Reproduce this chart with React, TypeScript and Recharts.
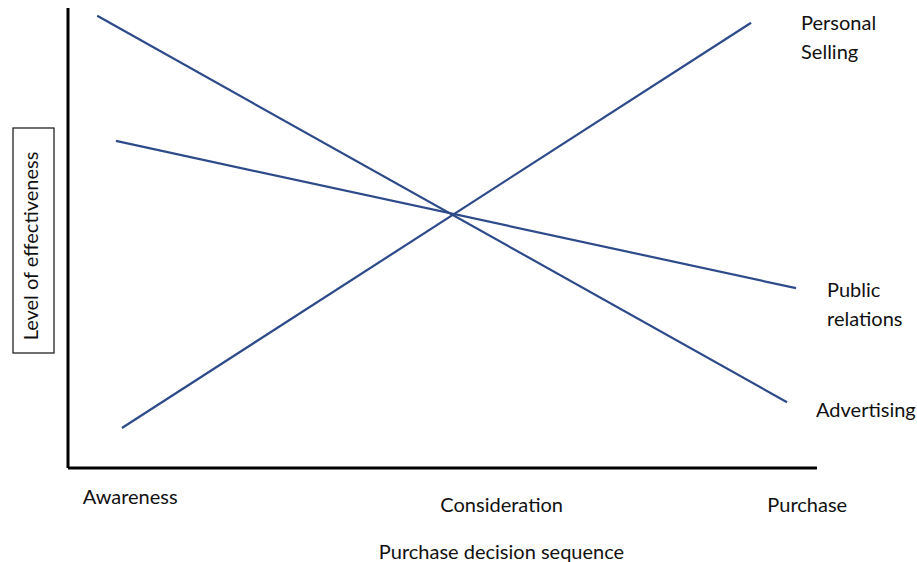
import { LineChart, Line, XAxis, YAxis } from 'recharts'

// x: position along the purchase decision sequence (0-100), y: level of effectiveness (0-100)
const advertising = [
  { x: 3.9, y: 98.3 },
  { x: 96.0, y: 14.3 },
]
const personalSelling = [
  { x: 7.2, y: 8.7 },
  { x: 91.2, y: 96.8 },
]
const publicRelations = [
  { x: 6.4, y: 71.1 },
  { x: 97.2, y: 39.1 },
]

const stageTicks = [8.3, 57.9, 98.7]
const stageLabels = ['Awareness', 'Consideration', 'Purchase']

const LINE_COLOR = '#2d4a8a'
const FONT = 'Lato, "Open Sans", sans-serif'
const FONT_SIZE = 20
const TEXT_COLOR = '#111'

// small vertical nudges for the stage labels (Awareness sits a little higher)
const stageDy = [-8, 0, 0]

function StageTick(props: any) {
  const { x, y, payload, index } = props
  const i = stageTicks.indexOf(payload.value)
  return (
    <text x={x} y={y + 31 + stageDy[i >= 0 ? i : index]} textAnchor="middle" fontFamily={FONT} fontSize={FONT_SIZE} fill={TEXT_COLOR} dominantBaseline="middle">
      {stageLabels[i >= 0 ? i : index]}
    </text>
  )
}

function XTitle(props: any) {
  const { viewBox } = props
  const cx = viewBox.x + viewBox.width / 2 + 59
  return (
    <text x={cx} y={554} textAnchor="middle" dominantBaseline="middle" fontFamily={FONT} fontSize={FONT_SIZE} fill={TEXT_COLOR}>
      Purchase decision sequence
    </text>
  )
}

function YTitle() {
  return (
    <g>
      <rect x={13} y={128} width={41} height={225} fill="#fff" stroke="#222" strokeWidth={1.3} />
      <text x={33} y={246} transform="rotate(-90 33 246)" textAnchor="middle" dominantBaseline="middle" fontFamily={FONT} fontSize={FONT_SIZE} fill={TEXT_COLOR}>
        Level of effectiveness
      </text>
    </g>
  )
}

function endLabel(lines: string[], dx: number, dy: number) {
  return (props: any) => {
    const { x, y, index } = props
    if (index !== 1) return null
    return (
      <text key={`lbl-${lines[0]}`} x={x + dx} y={y + dy} fontFamily={FONT} fontSize={FONT_SIZE} fill={TEXT_COLOR} dominantBaseline="middle">
        {lines.map((t, i) => (
          <tspan key={t} x={x + dx} dy={i === 0 ? 0 : 29}>{t}</tspan>
        ))}
      </text>
    )
  }
}

export default function App() {
  return (
    <div style={{ position: 'absolute', left: 0, top: 0, width: 917, height: 562, background: '#fff' }}>
      <LineChart width={917} height={562} margin={{ top: 8, right: 100, bottom: 0, left: 0 }}>
        <XAxis
          type="number"
          dataKey="x"
          domain={[0, 100]}
          ticks={stageTicks}
          tick={<StageTick />}
          tickLine={false}
          axisLine={{ stroke: '#000', strokeWidth: 3 }}
          height={94}
          allowDataOverflow
          label={<XTitle />}
        />
        <YAxis
          type="number"
          domain={[0, 100]}
          tick={false}
          tickLine={false}
          axisLine={{ stroke: '#000', strokeWidth: 3 }}
          width={68}
          label={<YTitle />}
        />
        <Line data={advertising} dataKey="y" stroke={LINE_COLOR} strokeWidth={2.2} dot={false} activeDot={false} isAnimationActive={false} label={endLabel(['Advertising'], 29, 10)} />
        <Line data={personalSelling} dataKey="y" stroke={LINE_COLOR} strokeWidth={2.2} dot={false} activeDot={false} isAnimationActive={false} label={endLabel(['Personal', 'Selling'], 50, 2)} />
        <Line data={publicRelations} dataKey="y" stroke={LINE_COLOR} strokeWidth={2.2} dot={false} activeDot={false} isAnimationActive={false} label={endLabel(['Public', 'relations'], 31, 4)} />
      </LineChart>
    </div>
  )
}
